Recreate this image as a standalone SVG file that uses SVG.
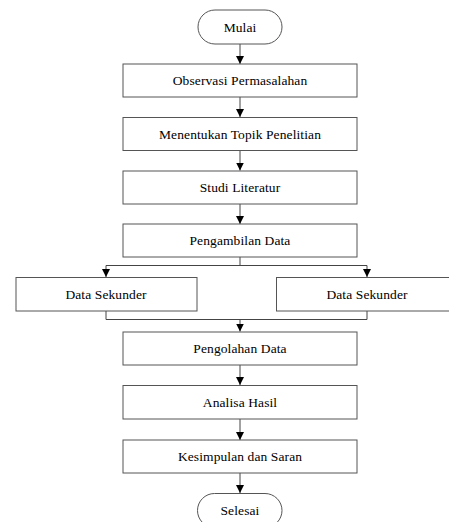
<svg xmlns="http://www.w3.org/2000/svg" width="449" height="522" viewBox="0 0 449 522">
<style>
.n{fill:#fff;stroke:#555;stroke-width:1}
.c{fill:none;stroke:#444;stroke-width:1}
</style>
<defs>
<marker id="a" markerWidth="9" markerHeight="9" refX="8" refY="4.5" orient="auto" markerUnits="userSpaceOnUse">
<path d="M0,0.5 L8,4.5 L0,8.5 Z" fill="#000"/>
</marker>
</defs>
<rect width="449" height="522" fill="#fff"/>
<g id="connectors">
<path class="c" d="M240,44 V64" marker-end="url(#a)"/>
<path class="c" d="M240,97 V117" marker-end="url(#a)"/>
<path class="c" d="M240,150.5 V170.5" marker-end="url(#a)"/>
<path class="c" d="M240,204 V224" marker-end="url(#a)"/>
<path class="c" d="M240,257 V265.5 H106 V277" marker-end="url(#a)"/>
<path class="c" d="M240,265.5 H367 V277" marker-end="url(#a)"/>
<path class="c" d="M106,311 V319.5 H367 V311"/>
<path class="c" d="M240,319.5 V331.5" marker-end="url(#a)"/>
<path class="c" d="M240,365 V385" marker-end="url(#a)"/>
<path class="c" d="M240,419 V440" marker-end="url(#a)"/>
<path class="c" d="M240,473 V493" marker-end="url(#a)"/>
</g>
<g font-family="'Liberation Serif', 'Times New Roman', Times, serif" font-size="13.5" letter-spacing="0.1" fill="#000" text-anchor="middle">
<g id="mulai"><rect class="n" x="198" y="10" width="84" height="34" rx="17"/><text x="240" y="31.5">Mulai</text></g>
<g id="observasi"><rect class="n" x="123" y="64" width="234" height="33"/><text x="240" y="85">Observasi Permasalahan</text></g>
<g id="menentukan"><rect class="n" x="123" y="117.5" width="234" height="33"/><text x="240" y="138.5">Menentukan Topik Penelitian</text></g>
<g id="studi"><rect class="n" x="123" y="171" width="234" height="33"/><text x="240" y="192">Studi Literatur</text></g>
<g id="pengambilan"><rect class="n" x="123" y="224" width="234" height="33"/><text x="240" y="245">Pengambilan Data</text></g>
<g id="sekunder1"><rect class="n" x="16" y="277.5" width="181" height="33.5"/><text x="106" y="298.5">Data Sekunder</text></g>
<g id="sekunder2"><rect class="n" x="276.5" y="277.5" width="181" height="33.5"/><text x="367" y="298.5">Data Sekunder</text></g>
<g id="pengolahan"><rect class="n" x="123" y="332" width="234" height="33"/><text x="240" y="353">Pengolahan Data</text></g>
<g id="analisa"><rect class="n" x="123" y="385.5" width="234" height="33.5"/><text x="240" y="406.5">Analisa Hasil</text></g>
<g id="kesimpulan"><rect class="n" x="123" y="440" width="234" height="33"/><text x="240" y="461">Kesimpulan dan Saran</text></g>
<g id="selesai"><rect class="n" x="197.5" y="493.5" width="84.5" height="34" rx="17"/><text x="240" y="514.5">Selesai</text></g>
</g>
</svg>
